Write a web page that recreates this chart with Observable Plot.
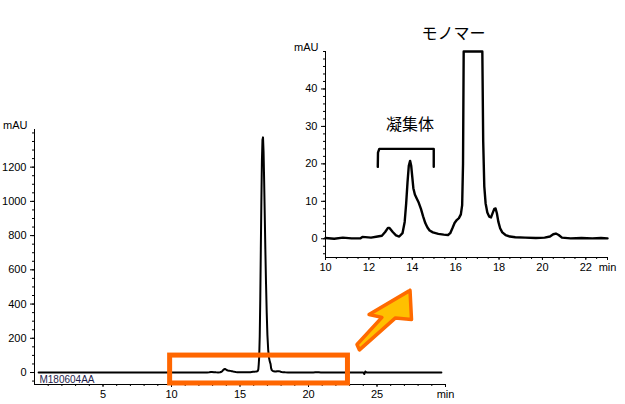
<!DOCTYPE html>
<html>
<head>
<meta charset="utf-8">
<script src="https://cdn.jsdelivr.net/npm/d3@7"></script>
<script src="https://cdn.jsdelivr.net/npm/@observablehq/plot@0.6"></script>
<style>
  html, body { margin: 0; padding: 0; background: #fff; }
  #wrap { position: relative; width: 625px; height: 404px; overflow: hidden; }
  #wrap svg { position: absolute; left: 0; top: 0; }
</style>
</head>
<body>
<div id="wrap"></div>
<script>
// Chromatogram readout (minutes, mAU)
const chromTime = [0.3, 5, 9.0, 10.0, 10.4, 10.8, 11.2, 11.6, 11.7, 12.1, 12.4, 12.6, 12.75, 12.88, 12.95, 13.1, 13.25, 13.4, 13.55, 13.65, 13.72, 13.78, 13.84, 13.9, 13.95, 14.0, 14.05, 14.12, 14.2, 14.3, 14.4, 14.5, 14.6, 14.7, 14.8, 14.95, 15.2, 15.45, 15.65, 15.75, 15.85, 15.95, 16.05, 16.15, 16.24, 16.3, 16.34, 16.37, 16.40, 16.44, 16.48, 16.52, 16.56, 16.60, 16.64, 16.68, 16.72, 16.76, 16.80, 16.85, 16.90, 16.95, 17.00, 17.06, 17.12, 17.18, 17.23, 17.27, 17.32, 17.38, 17.46, 17.55, 17.63, 17.7, 17.78, 17.84, 17.9, 17.97, 18.05, 18.15, 18.3, 18.5, 18.75, 19.2, 19.7, 20.1, 20.35, 20.5, 20.62, 20.75, 20.9, 21.3, 21.8, 22.3, 22.7, 23.0, 24.0, 24.07, 24.15, 24.25, 29.7];
const chromMAU  = [0, 0.2, 0.1, 0.2, 0.0, 0.3, 0.1, 0.1, 0.5, 0.3, 0.6, 0.8, 1.8, 2.9, 2.9, 1.8, 0.9, 0.6, 1.5, 4.5, 9.5, 15, 19.5, 20.8, 19.5, 16.5, 13.5, 11.8, 10.8, 9.6, 8.0, 6.0, 4.2, 3.0, 2.2, 1.7, 1.3, 1.1, 1.0, 1.5, 2.8, 4.2, 5.0, 5.5, 6.5, 9, 20, 50, 90, 210, 430, 720, 1000, 1240, 1360, 1374, 1290, 1130, 950, 720, 520, 350, 220, 130, 85, 62, 51, 26, 14, 9.5, 7.0, 5.9, 5.7, 6.8, 8.0, 8.1, 6.8, 4.5, 2.8, 1.7, 1.0, 0.6, 0.4, 0.3, 0.2, 0.3, 0.6, 1.2, 1.4, 1.0, 0.3, 0.1, 0.2, 0.1, 0.2, 0.1, 0, -9, 6, 0, 0];

// Main axis ticks
const mainXTicks = [5, 10, 15, 20, 25, 30];
const mainXMinor = d3.range(1, 30, 1);
const mainYTicks = [0, 200, 400, 600, 800, 1000, 1200];
const mainYMinor = d3.range(-50, 1401, 50);
const mainXDomain = [0, 30];
const mainYDomain = [-70, 1420];

// Inset axis ticks
const insetXTicks = [10, 12, 14, 16, 18, 20, 22, 23];
const insetXMinor = d3.range(10.5, 23, 0.5);
const insetYTicks = [0, 10, 20, 30, 40];
const insetYMinor = d3.range(-4, 51, 2);
const insetXDomain = [10, 23];
const insetYDomain = [-5, 50];

// Annotations (data coordinates)
const zoomBoxT = [9.9, 22.88];
const zoomBoxV = [-64, 99];
const arrowT = [27.41, 27.52, 26.35, 23.72, 23.54, 25.36, 24.42, 27.41];
const arrowV = [480, 310, 319, 132, 164, 322, 339, 480];
const bracketT = [12.41, 12.42, 12.48, 14.99, 14.99];
const bracketV = [19.2, 23.0, 24.0, 24.0, 19.2];
const insetLabels = ["凝集体", "モノマー"];
const insetLabelT = [13.9, 15.9];
const insetLabelV = [30.4, 54.8];
const sampleName = "M180604AA";
const unitLabel = "mAU";

const chrom = chromTime.map((t, i) => ({t, v: chromMAU[i]}));
const arrow = arrowT.map((t, i) => ({t, v: arrowV[i]}));
const bracket = bracketT.map((t, i) => ({t, v: bracketV[i]}));
const labels = insetLabels.map((s, i) => ({s, t: insetLabelT[i], v: insetLabelV[i]}));

const font = "'Liberation Sans', Arial, sans-serif";
const svgStyle = {background: "transparent", overflow: "visible", fontFamily: font, fontSize: "11px", color: "#000"};

const main = Plot.plot({
  width: 625, height: 404,
  marginLeft: 34, marginRight: 180, marginTop: 129, marginBottom: 20,
  style: svgStyle,
  x: {domain: mainXDomain},
  y: {domain: mainYDomain},
  marks: [
    Plot.axisX({ticks: mainXMinor, tickSize: 2, tickFormat: () => "", label: null}),
    Plot.axisX({ticks: mainXTicks, tickSize: 3, tickPadding: 3, label: null, fontSize: 11,
      tickFormat: d => d === 30 ? "min" : String(d)}),
    Plot.axisY({ticks: mainYMinor, tickSize: 2, tickFormat: () => "", label: null}),
    Plot.axisY({ticks: mainYTicks, tickSize: 4, tickPadding: 4, label: null, fontSize: 11,
      tickFormat: d => String(d)}),
    Plot.ruleX([mainXDomain[0]], {stroke: "#000", strokeWidth: 1}),
    Plot.ruleY([mainYDomain[0]], {stroke: "#000", strokeWidth: 1}),
    Plot.text([unitLabel], {x: mainXDomain[0], y: mainYDomain[1], text: d => d, textAnchor: "end", dx: -7, dy: -4, fontSize: 11, fill: "#000"}),
    Plot.text([sampleName], {x: 0.36, y: -41, text: d => d, textAnchor: "start", fontSize: 10, fill: "#1c1c4a"}),
    Plot.line(chrom, {x: "t", y: "v", stroke: "#000", strokeWidth: 2, strokeLinejoin: "round"}),
    Plot.rect([0], {x1: () => zoomBoxT[0], x2: () => zoomBoxT[1], y1: () => zoomBoxV[0], y2: () => zoomBoxV[1],
      fill: "none", stroke: "#ff6600", strokeWidth: 5}),
    Plot.line(arrow, {x: "t", y: "v", fill: "#ffc000", stroke: "#ff6a00", strokeWidth: 3.5, strokeLinejoin: "round"})
  ]
});

const insetData = chrom.filter(d => d.t >= insetXDomain[0] && d.t <= insetXDomain[1])
  .map(d => ({t: d.t, v: Math.min(d.v, insetYDomain[1])}));

const inset = Plot.plot({
  width: 625, height: 404,
  marginLeft: 325, marginRight: 18, marginTop: 51, marginBottom: 147,
  style: svgStyle,
  x: {domain: insetXDomain},
  y: {domain: insetYDomain},
  marks: [
    Plot.axisX({ticks: insetXMinor, tickSize: 2, tickFormat: () => "", label: null}),
    Plot.axisX({ticks: insetXTicks, tickSize: 3, tickPadding: 3, label: null, fontSize: 11,
      tickFormat: d => d === 23 ? "min" : String(d)}),
    Plot.axisY({ticks: insetYMinor, tickSize: 2, tickFormat: () => "", label: null}),
    Plot.axisY({ticks: insetYTicks, tickSize: 4, tickPadding: 4, label: null, fontSize: 11,
      tickFormat: d => String(d)}),
    Plot.ruleX([insetXDomain[0]], {stroke: "#000", strokeWidth: 1}),
    Plot.ruleY([insetYDomain[0]], {stroke: "#000", strokeWidth: 1}),
    Plot.text([unitLabel], {x: insetXDomain[0], y: insetYDomain[1], text: d => d, textAnchor: "end", dx: -7, dy: -4, fontSize: 11, fill: "#000"}),
    Plot.line(insetData, {x: "t", y: "v", stroke: "#000", strokeWidth: 2.4, strokeLinejoin: "round"}),
    Plot.line(bracket, {x: "t", y: "v", stroke: "#000", strokeWidth: 2.4, strokeLinejoin: "round", curve: "linear"}),
    Plot.text(labels, {x: "t", y: "v", text: "s", fontSize: 16, fill: "#000",
      fontFamily: "'Noto Sans CJK JP', sans-serif"})
  ]
});

const wrap = document.getElementById("wrap");
wrap.appendChild(main);
wrap.appendChild(inset);
</script>
</body>
</html>
